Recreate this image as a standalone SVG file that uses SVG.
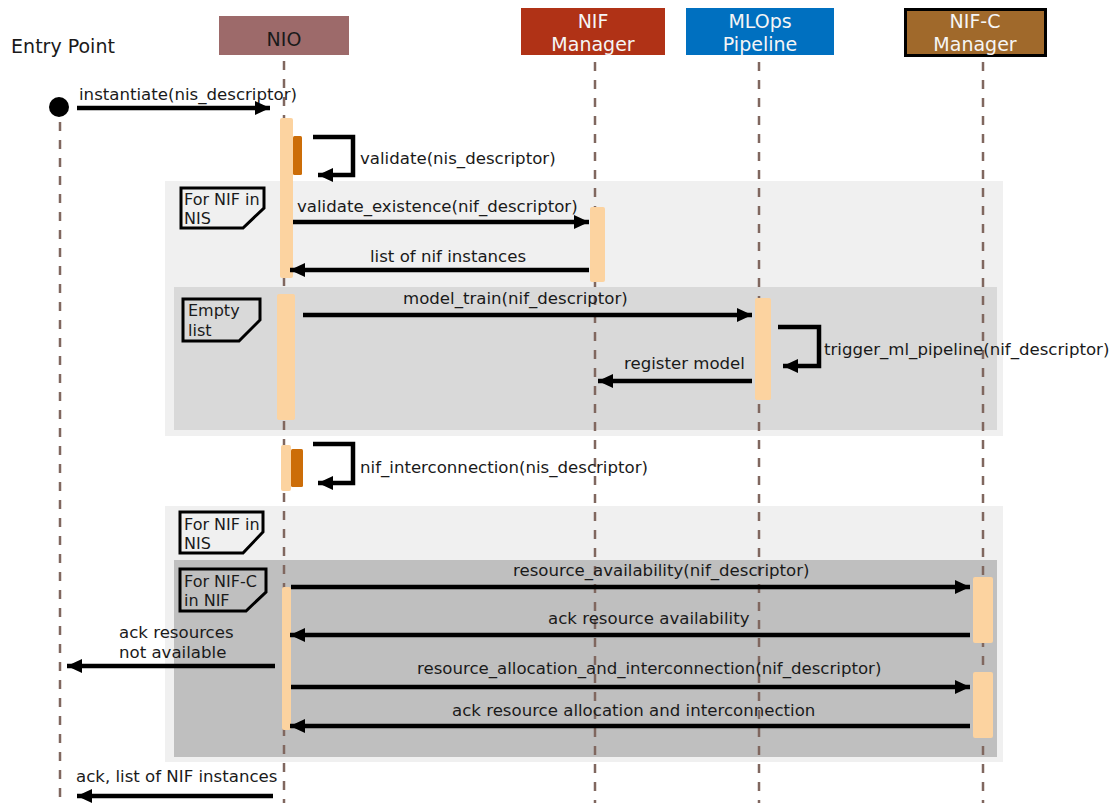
<svg xmlns="http://www.w3.org/2000/svg" width="1117" height="803" viewBox="0 0 1117 803">
  <style>
    .lbl { font-family: "DejaVu Sans", "Liberation Sans", sans-serif; font-size: 16.6px; fill: #1a1a1a; }
    .tagtxt { font-family: "DejaVu Sans", "Liberation Sans", sans-serif; font-size: 16px; fill: #1a1a1a; }
    .hdr { font-family: "DejaVu Sans", "Liberation Sans", sans-serif; font-size: 19px; text-anchor: middle; }
    .life { stroke: #80675f; stroke-width: 2.5; stroke-dasharray: 9 9; fill: none; }
    .msg { stroke: #000; stroke-width: 4.5; fill: none; marker-end: url(#head); }
    .act { fill: #fcd3a0; }
    .sub { fill: #cc6d08; }
    .tag { fill: none; stroke: #000; stroke-width: 3; }
  </style>
  <defs>
    <marker id="head" markerUnits="userSpaceOnUse" markerWidth="16" markerHeight="15" refX="15" refY="7" orient="auto">
      <path d="M0,0 L15,7 L0,14 Z" fill="#000"/>
    </marker>
  </defs>
  <rect width="1117" height="803" fill="#fff"/>

  <!-- loop frames -->
  <g id="frame-nif-1">
    <rect x="165" y="181" width="838" height="255" fill="#f0f0f0"/>
    <path class="tag" d="M181,188 H264 V208 L243,228 H181 Z"/>
    <text class="tagtxt" x="184" y="205">For NIF in</text>
    <text class="tagtxt" x="184" y="224">NIS</text>
  </g>
  <g id="frame-empty">
    <rect x="174" y="287" width="823" height="143" fill="#d9d9d9"/>
    <path class="tag" d="M183,299 H260 V320 L239,341 H183 Z"/>
    <text class="tagtxt" x="188" y="316">Empty</text>
    <text class="tagtxt" x="188" y="336">list</text>
  </g>
  <g id="frame-nif-2">
    <rect x="165" y="506" width="838" height="256" fill="#f0f0f0"/>
    <path class="tag" d="M180,512 H263 V532 L243,553 H180 Z"/>
    <text class="tagtxt" x="184" y="530">For NIF in</text>
    <text class="tagtxt" x="184" y="549">NIS</text>
  </g>
  <g id="frame-nifc">
    <rect x="174" y="560" width="823" height="197" fill="#bfbfbf"/>
    <path class="tag" d="M180,569 H266 V592 L246,611 H180 Z"/>
    <text class="tagtxt" x="184" y="587">For NIF-C</text>
    <text class="tagtxt" x="184" y="606">in NIF</text>
  </g>

  <!-- participants -->
  <g id="entry">
    <text class="hdr" x="63" y="53" fill="#1a1a1a">Entry Point</text>
    <circle cx="59" cy="107" r="10" fill="#000"/>
    <line class="life" x1="60" y1="122" x2="60" y2="803"/>
  </g>
  <g id="nio">
    <rect x="219" y="16" width="130" height="39" fill="#9d6a6a"/>
    <text class="hdr" x="284" y="46" fill="#1a1a1a">NIO</text>
    <line class="life" x1="284" y1="61" x2="284" y2="803"/>
    <rect class="act" x="280" y="118" width="13" height="160" rx="2"/>
    <rect class="sub" x="293" y="136" width="9" height="39" rx="1.5"/>
    <rect class="act" x="277" y="294" width="18" height="126" rx="2"/>
    <rect class="act" x="281" y="445" width="10" height="46" rx="2"/>
    <rect class="sub" x="291" y="449" width="12" height="38" rx="1.5"/>
    <rect class="act" x="282" y="587" width="9" height="143" rx="2"/>
  </g>
  <g id="nif-manager">
    <rect x="521" y="8" width="144" height="47" fill="#b03216"/>
    <text class="hdr" x="593" y="28" fill="#f5f5f5">NIF</text>
    <text class="hdr" x="593" y="51" fill="#f5f5f5">Manager</text>
    <line class="life" x1="595" y1="62" x2="595" y2="803"/>
    <rect class="act" x="590" y="207" width="15" height="75" rx="2"/>
  </g>
  <g id="mlops-pipeline">
    <rect x="686" y="8" width="148" height="47" fill="#0070c0"/>
    <text class="hdr" x="760" y="28" fill="#f5f5f5">MLOps</text>
    <text class="hdr" x="760" y="51" fill="#f5f5f5">Pipeline</text>
    <line class="life" x1="759" y1="62" x2="759" y2="803"/>
    <rect class="act" x="755" y="298" width="16" height="102" rx="2"/>
  </g>
  <g id="nifc-manager">
    <rect x="905.5" y="9.5" width="140" height="46" fill="#a0692b" stroke="#000" stroke-width="3"/>
    <text class="hdr" x="975" y="28" fill="#f5f5f5">NIF-C</text>
    <text class="hdr" x="975" y="51" fill="#f5f5f5">Manager</text>
    <line class="life" x1="983" y1="62" x2="983" y2="803"/>
    <rect class="act" x="973" y="577" width="20" height="66" rx="2"/>
    <rect class="act" x="973" y="672" width="20" height="66" rx="2"/>
  </g>

  <!-- messages -->
  <g id="connectors">
    <line class="msg" x1="77" y1="108" x2="270" y2="108"/>
    <polyline class="msg" points="313,137 353,137 353,175 318,175"/>
    <line class="msg" x1="293" y1="222" x2="589" y2="222"/>
    <line class="msg" x1="589" y1="270" x2="290" y2="270"/>
    <line class="msg" x1="303" y1="315" x2="752" y2="315"/>
    <polyline class="msg" points="778,327 819,327 819,366 783,366"/>
    <line class="msg" x1="752" y1="381" x2="598" y2="381"/>
    <polyline class="msg" points="313,444 353,444 353,483 318,483"/>
    <line class="msg" x1="291" y1="587" x2="970" y2="587"/>
    <line class="msg" x1="970" y1="635" x2="290" y2="635"/>
    <line class="msg" x1="275" y1="666" x2="67" y2="666"/>
    <line class="msg" x1="291" y1="687" x2="970" y2="687"/>
    <line class="msg" x1="970" y1="726" x2="290" y2="726"/>
    <line class="msg" x1="273" y1="796" x2="77" y2="796"/>
  </g>

  <!-- message labels -->
  <g id="labels">
    <text class="lbl" x="79" y="100">instantiate(nis_descriptor)</text>
    <text class="lbl" x="360" y="164">validate(nis_descriptor)</text>
    <text class="lbl" x="297" y="212">validate_existence(nif_descriptor)</text>
    <text class="lbl" x="370" y="262">list of nif instances</text>
    <text class="lbl" x="403" y="304">model_train(nif_descriptor)</text>
    <text class="lbl" x="824" y="355">trigger_ml_pipeline(nif_descriptor)</text>
    <text class="lbl" x="624" y="369">register model</text>
    <text class="lbl" x="360" y="473">nif_interconnection(nis_descriptor)</text>
    <text class="lbl" x="513" y="576">resource_availability(nif_descriptor)</text>
    <text class="lbl" x="548" y="624">ack resource availability</text>
    <text class="lbl" x="119" y="638">ack resources</text>
    <text class="lbl" x="119" y="658">not available</text>
    <text class="lbl" x="417" y="674">resource_allocation_and_interconnection(nif_descriptor)</text>
    <text class="lbl" x="452" y="716">ack resource allocation and interconnection</text>
    <text class="lbl" x="76" y="782">ack, list of NIF instances</text>
  </g>
</svg>
